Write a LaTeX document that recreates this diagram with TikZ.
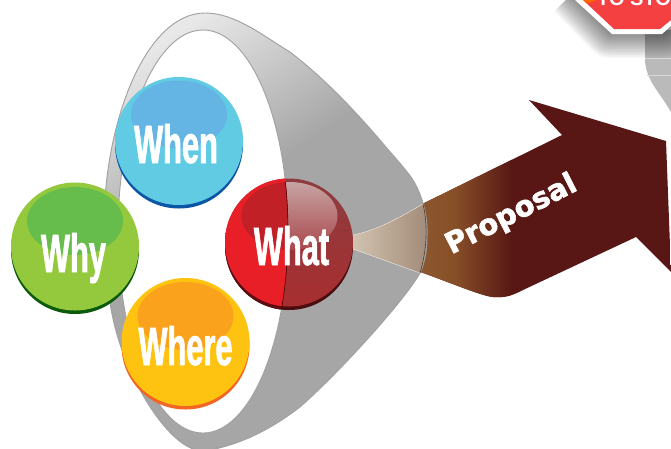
\documentclass[tikz,border=0pt]{standalone}
\usepackage{fontspec}
\usetikzlibrary{calc}
\newfontfamily\impfont[FakeStretch=0.57,FakeBold=1.2]{Liberation Sans Bold}
\newfontfamily\propfont[FakeBold=1.8]{DejaVu Sans Bold}
\newfontfamily\stopfont{Liberation Sans Bold}
\definecolor{funA}{HTML}{E8E8E8}
\definecolor{funB}{HTML}{A6A6A6}
\definecolor{funE}{HTML}{A0A0A0}
\definecolor{arrD}{HTML}{581714}
\definecolor{arrL}{HTML}{8F5C34}
\definecolor{arrM}{HTML}{874F28}
\definecolor{stopR}{HTML}{F44040}
\definecolor{beamL}{HTML}{D0C2AF}
\definecolor{beamR}{HTML}{A28B78}
\definecolor{whyM}{HTML}{95C93D}\definecolor{whyD}{HTML}{0A5A0A}\definecolor{whyH}{HTML}{67BD4B}
\definecolor{whenM}{HTML}{62CBE4}\definecolor{whenD}{HTML}{0B56A4}\definecolor{whenH}{HTML}{64B5E4}
\definecolor{whereM}{HTML}{FEC210}\definecolor{whereD}{HTML}{F26522}\definecolor{whereH}{HTML}{FAA21B}
\definecolor{whatM}{HTML}{E81F27}\definecolor{whatD}{HTML}{5E0D12}\definecolor{whatH}{HTML}{C12026}
\definecolor{whatCD}{HTML}{4A0D10}
\definecolor{whatCT}{HTML}{8C3C3F}\definecolor{whatCB}{HTML}{A82E30}
\definecolor{whatHT}{HTML}{C7A3A3}\definecolor{whatHB}{HTML}{A9484C}
\tikzset{
  bubbletext/.style={anchor=base,text=white,inner sep=0pt,font=\impfont\fontsize{54}{54}\selectfont},
}
\newcommand{\funnelpath}{(205,13) .. controls (235,13) and (262,35) .. (290,52) .. controls (320,75) and (350,105) .. (380,140) .. controls (395,158) and (405,168) .. (413,180) .. controls (422,195) and (428,215) .. (427,237) .. controls (427,250) and (425,262) .. (420,273) .. controls (405,300) and (340,372) .. (300,407) .. controls (270,430) and (245,441) .. (223,447) .. controls (215,449) and (210,451) .. (203,451) .. controls (175,451) and (140,400) .. (122,350) .. controls (108,312) and (104,265) .. (104,220) .. controls (106,115) and (148,13) .. (205,13) -- cycle}
\newcommand{\bubble}[6]{% cx cy main dark hlcy hl
  \fill[#4] (#1,#2+3.5) circle[radius=64];
  \fill[#3] (#1,#2) circle[radius=64];
  \fill[#6] (#1,#5) ellipse[x radius=48,y radius=34];
}
\begin{document}
\begin{tikzpicture}[x=1pt,y=-1pt]
\useasboundingbox (0,0) rectangle (671,448);
\clip (0,0) rectangle (671,448);
\fill[white] (0,0) rectangle (671,448);
% right gray shape
\fill[black!27] (645,30) -- (645,60) .. controls (646,80) and (658,90) .. (671,112) -- (671,30) -- cycle;
\draw[white!85!black,line width=.5] (645,58) -- (671,58) (647,75) -- (671,75);
% stop-sign shadow
\foreach \w in {2,5,...,50}{
  \draw[black,opacity=.03,line width=\w,line join=round] (572,-6) -- (610,33) -- (664,33) -- (680,20);
}
\fill[white] (575,0) -- (612,34) -- (662,34) -- (671,26) -- (671,0) -- cycle;
\fill[stopR] (583,0) -- (614,29) -- (660,29) -- (671,20) -- (671,0) -- cycle;
\fill[orange!80!red] (583,0) -- (587,3.5) -- (597,0) -- cycle;
\node[anchor=base west,text=white,inner sep=0pt,font=\stopfont\fontsize{20}{20}\selectfont] (stoptext) at (597,5) {TO STOP};
% arrow
\begin{scope}
  \clip (400,215) -- (562,135) -- (529,100) -- (666,141) -- (671,272) -- (636,237) -- (523,290) .. controls (512,296) and (503,298) .. (493,297) .. controls (480,296) and (440,278) .. (400,265) -- cycle;
  \fill[arrD] (400,90) rectangle (671,300);
  \shade[left color=arrL,right color=arrM] (400,90) rectangle (455,300);
  \shade[left color=arrM,right color=arrD] (454.5,90) rectangle (512,300);
\end{scope}
\node[rotate=27,text=white,inner sep=0pt,font=\propfont\fontsize{29}{29}\selectfont] (proposal) at (511.5,215) {Proposal};
% funnel
\begin{scope}
  \clip \funnelpath;
  \fill[funB] (90,0) rectangle (440,460);
  \fill[transform canvas={shift={(205,13)},rotate=33.7},funA] (-600,-300) rectangle (600,0.5);
  \shade[transform canvas={shift={(205,13)},rotate=33.7},top color=funA,bottom color=funB] (-600,0) rectangle (600,164);
\end{scope}
\draw[funE,line width=.9] \funnelpath;
\fill[white] (203,231.5) ellipse[x radius=85,y radius=201.5];
\draw[funE,line width=.9] (203,231.5) ellipse[x radius=85,y radius=201.5];
% beam
\shade[left color=beamL,right color=beamR,draw=none] (353,235) .. controls (377,230) and (395,220) .. (423,204) .. controls (428,225) and (427,250) .. (420,273) -- (353,249) -- cycle;
\draw[white!70!beamL,line width=.4] (353,235) .. controls (377,230) and (395,220) .. (423,204);
\draw[white!70!beamL,line width=.4] (353,249) -- (420,273);
\draw[black!55!beamR,line width=.6] (423,204) .. controls (428,225) and (427,250) .. (420,273);
% bubbles
\bubble{75}{246.5}{whyM}{whyD}{221}{whyH}
\bubble{179}{141}{whenM}{whenD}{114.5}{whenH}
\bubble{185.5}{342}{whereM}{whereD}{316}{whereH}
% What: covered part first, then the uncovered part on top
\fill[whatCD] (289,246) circle[radius=64];
\shade[top color=whatCT,bottom color=whatCB] (289,242.5) circle[radius=64];
\shade[top color=whatHT,bottom color=whatHB] (289.5,216) ellipse[x radius=48,y radius=34];
\begin{scope}
  \clip (203,231.5) ellipse[x radius=85,y radius=201.5];
  \fill[whatD] (289,246) circle[radius=64];
  \fill[whatM] (289,242.5) circle[radius=64];
  \fill[whatH] (289.5,216) ellipse[x radius=48,y radius=34];
\end{scope}
\begin{scope}
  \clip (289,246) circle[radius=64];
  \draw[black!70!red,line width=.6] (203,231.5) ellipse[x radius=85,y radius=201.5];
\end{scope}
% labels
\node[bubbletext] (whentxt) at (176,163) {When};
\node[bubbletext] (whattxt) at (291.5,265) {What};
\node[bubbletext] (whytxt) at (73.5,272) {Why};
\node[bubbletext] (wheretxt) at (185.5,365) {Where};
\end{tikzpicture}
\end{document}
